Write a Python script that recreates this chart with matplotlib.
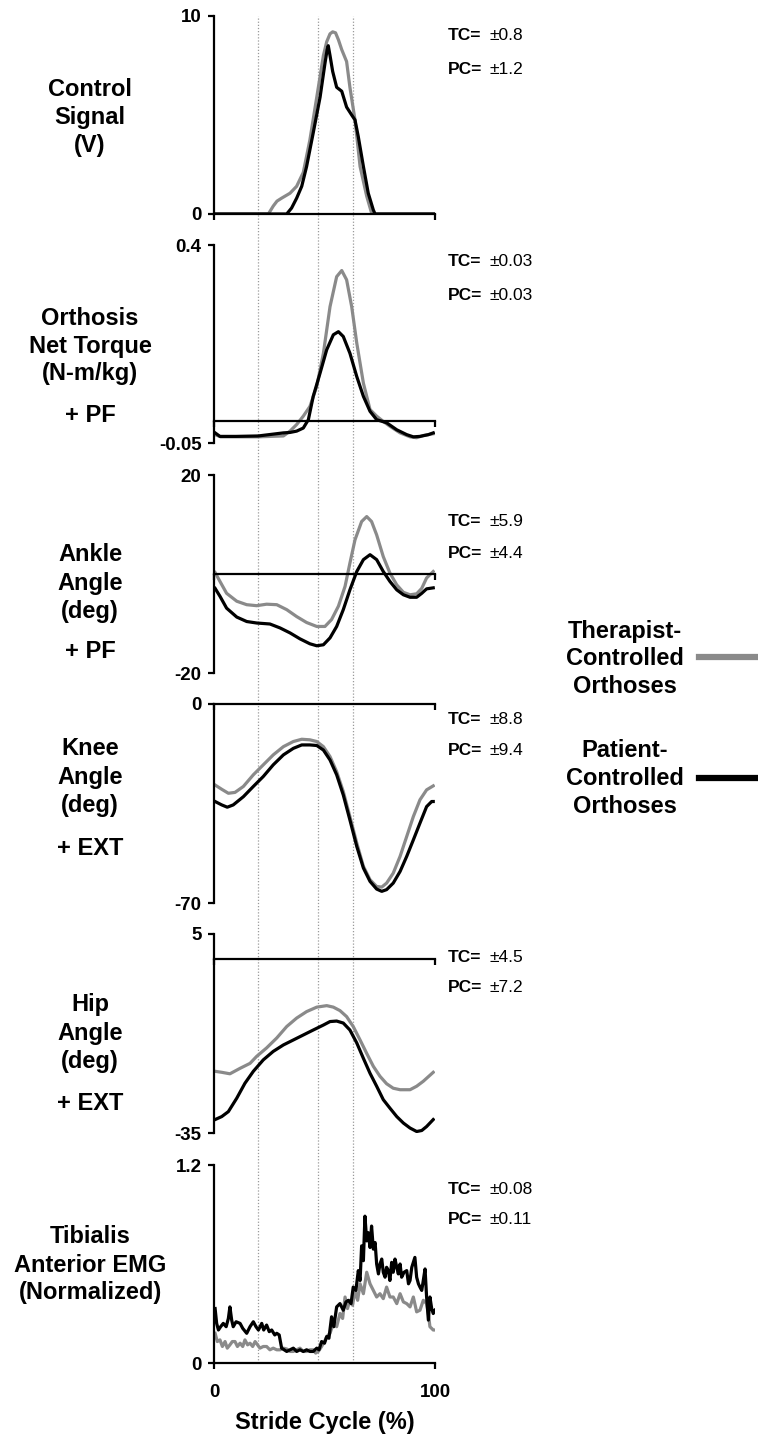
import matplotlib
matplotlib.use("Agg")
import matplotlib.pyplot as plt
from matplotlib.lines import Line2D

plt.rcParams['font.family'] = ['Liberation Sans', 'DejaVu Sans']
plt.rcParams['font.weight'] = 'bold'

GRAY = '#8a8a8a'
BLACK = '#000000'

# ---------------- data (stride cycle %, value) ----------------
# Panel 1: Control signal (V)
ctrl_tc_x = [0, 24.6, 26.8, 28.5, 30.6, 34.4, 37.4, 40.4, 43.4, 46.5, 49.5, 51.0, 52.5, 53.7, 55.0, 56.3, 57.8, 60.0, 61.5, 63.8, 66.1, 69.1, 71.3, 73, 100]
ctrl_tc_y = [0, 0, 0.4, 0.65, 0.8, 1.05, 1.4, 2.1, 3.75, 5.9, 8.0, 8.7, 9.1, 9.2, 9.15, 8.8, 8.3, 7.7, 6.4, 4.75, 2.4, 0.9, 0.05, 0, 0]
ctrl_pc_x = [0, 32.9, 35.1, 37.4, 39.7, 41.9, 44.9, 48.0, 50.2, 51.2, 51.7, 52.5, 53.7, 55.5, 57.8, 60.0, 62.3, 63.8, 65.3, 67.6, 69.8, 72.1, 72.9, 100]
ctrl_pc_y = [0, 0, 0.3, 0.8, 1.4, 2.4, 4.1, 5.9, 7.6, 8.3, 8.5, 8.0, 7.2, 6.4, 6.2, 5.4, 5.0, 4.75, 3.9, 2.4, 1.05, 0.2, 0, 0]

# Panel 2: Orthosis net torque (N-m/kg)
torq_tc_x = [0.5, 3, 10, 20, 31.4, 34.4, 37.4, 40.4, 43.4, 46.5, 49.5, 52.5, 55.5, 57.8, 60.0, 62.3, 64.6, 67.6, 70.6, 73.6, 76.6, 79.6, 84.2, 88.7, 91.7, 94.7, 99.2]
torq_tc_y = [-0.031, -0.036, -0.036, -0.036, -0.034, -0.023, -0.008, 0.011, 0.033, 0.079, 0.154, 0.260, 0.328, 0.342, 0.321, 0.260, 0.177, 0.086, 0.026, 0.011, -0.001, -0.012, -0.027, -0.036, -0.038, -0.033, -0.029]
torq_pc_x = [0.5, 2.7, 10, 20, 31.4, 34.4, 37.4, 40.4, 42.7, 44.9, 48.0, 51.0, 54.0, 56.3, 58.5, 61.5, 64.6, 67.6, 70.6, 73.6, 78.1, 82.7, 87.2, 90.2, 93.2, 97.0, 99.2]
torq_pc_y = [-0.027, -0.035, -0.035, -0.034, -0.027, -0.026, -0.023, -0.016, 0.003, 0.056, 0.109, 0.162, 0.196, 0.203, 0.192, 0.154, 0.101, 0.056, 0.022, 0.003, -0.004, -0.020, -0.031, -0.036, -0.035, -0.031, -0.027]

# Panel 3: Ankle angle (deg)
ank_tc_x = [0.5, 2.7, 5.7, 10.3, 14.8, 19.3, 23.8, 28.4, 32.9, 37.4, 41.9, 46.5, 50.2, 53.2, 56.3, 59.3, 61.5, 63.8, 66.8, 69.1, 71.3, 73.6, 76.6, 79.6, 82.7, 85.7, 88.7, 91.7, 94.0, 96.2, 99.2]
ank_tc_y = [0.3, -1.5, -3.9, -5.5, -6.2, -6.4, -6.1, -6.2, -7.2, -8.6, -9.8, -10.6, -10.6, -9.2, -6.5, -2.5, 2.2, 6.9, 10.6, 11.6, 10.6, 7.9, 3.5, 0.2, -2.2, -3.7, -4.2, -4.0, -2.9, -0.8, 0.5]
ank_pc_x = [0.5, 2.7, 5.7, 10.3, 14.8, 19.3, 25.3, 29.9, 34.4, 38.9, 43.4, 46.5, 49.5, 52.5, 55.5, 58.5, 61.5, 64.6, 67.6, 70.6, 73.6, 76.6, 79.6, 82.7, 85.7, 88.7, 91.7, 94.0, 96.2, 99.2]
ank_pc_y = [-2.9, -4.5, -6.9, -8.7, -9.6, -9.9, -10.1, -10.9, -11.9, -13.1, -14.1, -14.5, -14.3, -12.9, -10.6, -7.2, -3.2, 0.5, 2.9, 3.9, 2.9, 0.5, -1.5, -3.2, -4.2, -4.7, -4.7, -3.9, -3.0, -2.8]

# Panel 4: Knee angle (deg)
knee_tc_x = [0.5, 3.5, 6.5, 9.5, 13.3, 17.8, 22.3, 26.8, 31.4, 35.9, 39.7, 43.4, 46.5, 49.5, 52.5, 55.5, 58.5, 61.5, 64.6, 67.6, 70.6, 73.6, 75.9, 78.1, 81.1, 84.2, 87.2, 90.2, 93.2, 96.2, 99.2]
knee_tc_y = [-28.5, -30.0, -31.4, -31.1, -29.0, -24.9, -21.4, -17.9, -15.0, -13.2, -12.4, -12.6, -13.2, -15.0, -18.5, -23.8, -30.8, -39.6, -48.9, -57.1, -61.8, -64.2, -64.4, -63.0, -59.5, -53.6, -46.6, -39.6, -33.7, -30.2, -28.8]
knee_pc_x = [0.5, 3.5, 6.0, 8.7, 13.3, 17.8, 22.3, 26.8, 31.4, 35.9, 39.7, 43.4, 46.5, 49.5, 52.5, 55.5, 58.5, 61.5, 64.6, 67.6, 70.6, 73.6, 75.9, 78.1, 81.1, 84.2, 87.2, 90.2, 93.2, 96.2, 98.5, 99.2]
knee_pc_y = [-34.3, -35.5, -36.3, -35.5, -32.6, -29.0, -25.5, -21.4, -17.9, -15.6, -14.4, -14.4, -14.6, -16.2, -19.7, -24.9, -32.0, -40.8, -50.1, -57.7, -62.4, -65.1, -65.9, -65.3, -63.0, -58.9, -53.6, -47.8, -41.9, -36.1, -34.3, -34.3]

# Panel 5: Hip angle (deg)
hip_tc_x = [0.5, 3.5, 7.2, 11.8, 16.3, 19.3, 23.8, 28.4, 32.9, 37.4, 41.9, 46.5, 51.0, 54.0, 57.0, 60.0, 63.0, 66.1, 69.1, 72.1, 75.1, 78.1, 81.1, 84.2, 88.7, 91.7, 94.7, 99.2]
hip_tc_y = [-22.6, -22.8, -23.1, -22.0, -21.0, -19.6, -17.9, -15.9, -13.6, -11.9, -10.6, -9.7, -9.4, -9.7, -10.4, -11.6, -13.6, -16.3, -19.0, -21.6, -23.6, -25.1, -26.0, -26.3, -26.3, -25.6, -24.6, -22.8]
hip_pc_x = [0.5, 3.5, 6.5, 10.3, 14.0, 17.8, 22.3, 26.8, 31.4, 35.9, 40.4, 44.9, 49.5, 52.5, 55.5, 58.5, 61.5, 64.6, 67.6, 70.6, 73.6, 76.6, 79.6, 82.7, 85.7, 88.7, 91.7, 94.0, 96.2, 99.2]
hip_pc_y = [-32.3, -31.7, -30.7, -28.0, -25.0, -22.6, -20.3, -18.6, -17.3, -16.3, -15.3, -14.3, -13.3, -12.6, -12.5, -12.9, -14.3, -16.9, -20.0, -23.0, -25.6, -28.3, -30.0, -31.7, -33.0, -34.0, -34.7, -34.5, -33.7, -32.3]

# Panel 6: Tibialis anterior EMG (normalized)
emg_tc_x = [0.5, 1.5, 2.7, 3.8, 5.0, 6.0, 7.2, 8.3, 9.5, 10.6, 11.8, 13.0, 14.0, 15.2, 16.3, 17.5, 18.6, 19.7, 20.8, 22.3, 23.8, 25.3, 26.8, 28.4, 29.9, 31.4, 32.9, 34.4, 35.9, 37.4, 38.9, 40.4, 41.9, 43.4, 44.9, 46.0, 47.2, 48.7, 50.0, 51.0, 52.5, 54.0, 55.5, 57.0, 58.2, 59.3, 60.4, 61.5, 62.7, 63.8, 65.0, 66.1, 67.6, 69.1, 70.6, 72.1, 73.6, 75.1, 76.6, 78.1, 79.6, 81.1, 82.7, 84.2, 85.7, 87.2, 88.7, 90.2, 91.7, 93.2, 94.7, 96.2, 97.0, 97.7, 99.2, 100]
emg_tc_y = [0.18, 0.13, 0.14, 0.10, 0.13, 0.09, 0.11, 0.13, 0.13, 0.10, 0.12, 0.10, 0.14, 0.11, 0.12, 0.10, 0.13, 0.11, 0.09, 0.10, 0.10, 0.08, 0.09, 0.08, 0.08, 0.09, 0.085, 0.07, 0.07, 0.08, 0.09, 0.07, 0.07, 0.08, 0.08, 0.06, 0.07, 0.10, 0.13, 0.16, 0.18, 0.24, 0.22, 0.30, 0.27, 0.40, 0.33, 0.38, 0.35, 0.44, 0.38, 0.48, 0.42, 0.55, 0.48, 0.44, 0.40, 0.42, 0.39, 0.46, 0.40, 0.40, 0.36, 0.42, 0.37, 0.36, 0.34, 0.40, 0.31, 0.32, 0.38, 0.36, 0.30, 0.22, 0.20, 0.20]
emg_pc_x = [0.5, 1.2, 2.0, 3.0, 4.2, 5.5, 6.5, 7.2, 8.0, 8.7, 10.0, 11.8, 13.0, 14.8, 16.3, 17.8, 19.0, 20.1, 21.6, 22.5, 23.8, 25.0, 26.1, 27.5, 28.4, 29.5, 30.6, 32.9, 34.4, 35.9, 37.4, 38.9, 40.4, 41.9, 43.4, 44.9, 46.5, 47.5, 48.7, 50.0, 51.0, 52.0, 53.2, 54.2, 55.5, 57.0, 58.5, 59.7, 60.8, 62.0, 63.0, 64.2, 65.3, 66.1, 66.8, 67.6, 68.3, 69.1, 69.8, 70.6, 71.3, 72.1, 72.9, 73.6, 74.4, 75.1, 75.9, 76.6, 77.4, 78.1, 78.9, 79.6, 80.4, 81.1, 81.9, 82.7, 83.4, 84.2, 84.9, 86.0, 87.2, 88.0, 88.7, 89.5, 90.9, 91.7, 92.5, 93.2, 94.0, 94.7, 95.5, 96.2, 97.0, 97.7, 98.5, 99.2, 100]
emg_pc_y = [0.33, 0.24, 0.20, 0.22, 0.24, 0.22, 0.27, 0.34, 0.26, 0.22, 0.25, 0.24, 0.21, 0.18, 0.22, 0.25, 0.22, 0.20, 0.24, 0.20, 0.23, 0.19, 0.20, 0.17, 0.18, 0.17, 0.09, 0.07, 0.08, 0.09, 0.07, 0.08, 0.07, 0.08, 0.07, 0.07, 0.09, 0.08, 0.13, 0.12, 0.16, 0.15, 0.28, 0.22, 0.34, 0.36, 0.32, 0.37, 0.38, 0.36, 0.46, 0.44, 0.56, 0.50, 0.71, 0.62, 0.89, 0.74, 0.79, 0.70, 0.83, 0.69, 0.73, 0.60, 0.54, 0.60, 0.63, 0.55, 0.52, 0.58, 0.56, 0.50, 0.61, 0.55, 0.63, 0.58, 0.54, 0.60, 0.52, 0.55, 0.56, 0.48, 0.50, 0.58, 0.64, 0.52, 0.48, 0.46, 0.44, 0.50, 0.57, 0.40, 0.26, 0.40, 0.33, 0.30, 0.32]

panel_series = [
    (ctrl_tc_x, ctrl_tc_y, ctrl_pc_x, ctrl_pc_y),
    (torq_tc_x, torq_tc_y, torq_pc_x, torq_pc_y),
    (ank_tc_x, ank_tc_y, ank_pc_x, ank_pc_y),
    (knee_tc_x, knee_tc_y, knee_pc_x, knee_pc_y),
    (hip_tc_x, hip_tc_y, hip_pc_x, hip_pc_y),
    (emg_tc_x, emg_tc_y, emg_pc_x, emg_pc_y),
]
y_limits = [(0, 10), (-0.05, 0.4), (-20, 20), (-70, 0), (-35, 5), (0, 1.2)]
y_ticklabels = [("0", "10"), ("-0.05", "0.4"), ("-20", "20"), ("-70", "0"), ("-35", "5"), ("0", "1.2")]
panel_labels = [
    ["Control", "Signal", "(V)"],
    ["Orthosis", "Net Torque", "(N-m/kg)"],
    ["Ankle", "Angle", "(deg)"],
    ["Knee", "Angle", "(deg)"],
    ["Hip", "Angle", "(deg)"],
    ["Tibialis", "Anterior EMG", "(Normalized)"],
]
direction_labels = [None, "+ PF", "+ PF", "+ EXT", "+ EXT", None]
tc_values = ["±0.8", "±0.03", "±5.9", "±8.8", "±4.5", "±0.08"]
pc_values = ["±1.2", "±0.03", "±4.4", "±9.4", "±7.2", "±0.11"]
event_lines = [20, 47, 63]
x_ticklabels = ["0", "100"]
xlabel = "Stride Cycle (%)"
legend_labels = [["Therapist-", "Controlled", "Orthoses"], ["Patient-", "Controlled", "Orthoses"]]

# ---------------- layout (pixels) ----------------
W, H = 758, 1437
fig = plt.figure(figsize=(W / 100, H / 100), dpi=100)

def fx(px):
    return px / W

def fy(py):
    return 1 - py / H

AX_L, AX_R = 214, 435
panel_tops = [16, 245, 475, 704, 934, 1165]
panel_bots = [214, 443, 673, 903, 1133, 1363]
label_baselines = [[96, 124, 152], [325, 353, 380], [561, 590, 618],
                   [755, 784, 812], [1011, 1040, 1068], [1243, 1272, 1299]]
dir_baselines = [None, 422, 658, 855, 1110, None]
tc_centers = [36, 262, 521, 719, 957, 1189]
pc_centers = [69, 296, 553, 750, 988, 1220]

# dotted event lines spanning the whole column
ov = fig.add_axes([fx(AX_L), fy(1363), fx(AX_R) - fx(AX_L), fy(16) - fy(1363)], zorder=0)
ov.set_xlim(0, 100)
ov.set_ylim(0, 1)
ov.axis('off')
for ev in event_lines:
    ov.axvline(ev, color='#9a9a9a', lw=0.9, ls=(0, (1, 1.5)))

LW = 2.3
for i in range(6):
    top, bot = panel_tops[i], panel_bots[i]
    ax = fig.add_axes([fx(AX_L), fy(bot), fx(AX_R) - fx(AX_L), fy(top) - fy(bot)], zorder=1)
    ax.set_facecolor('none')
    tx, ty, px_, py_ = panel_series[i]
    ax.plot(tx, ty, color=GRAY, lw=LW, solid_joinstyle='round', zorder=3)
    ax.plot(px_, py_, color=BLACK, lw=LW, solid_joinstyle='round', zorder=4)
    ymin, ymax = y_limits[i]
    ax.set_xlim(0, 100)
    ax.set_ylim(ymin, ymax)
    ax.spines['top'].set_visible(False)
    ax.spines['right'].set_visible(False)
    ax.spines['left'].set_linewidth(1.6)
    ax.spines['bottom'].set_linewidth(1.6)
    ax.spines['bottom'].set_position(('data', 0))
    ax.spines['left'].set_zorder(5)
    ax.spines['bottom'].set_zorder(5)
    ax.set_yticks([ymin, ymax])
    ax.set_yticklabels(list(y_ticklabels[i]))
    ax.tick_params(axis='y', direction='out', length=4, width=1.6, pad=5,
                   labelsize=13.5)
    ax.set_xticks([0, 100])
    if i == 5:
        ax.set_xticklabels(x_ticklabels)
        ax.tick_params(axis='x', direction='out', length=4, width=1.6, pad=11,
                       labelsize=13.5)
    else:
        ax.set_xticklabels(["", ""])
        ax.tick_params(axis='x', direction='out', length=4, width=1.6)
    for lab in ax.get_yticklabels() + ax.get_xticklabels():
        lab.set_fontweight('bold')

    # left-side labels
    for line, b in zip(panel_labels[i], label_baselines[i]):
        fig.text(fx(90), fy(b), line, ha='center', va='baseline',
                 fontsize=17, fontweight='bold')
    if direction_labels[i]:
        fig.text(fx(90), fy(dir_baselines[i]), direction_labels[i], ha='center',
                 va='baseline', fontsize=17, fontweight='bold')

    # right-side variability annotations
    fig.text(fx(448), fy(tc_centers[i]), "TC=", ha='left', va='center',
             fontsize=12.5, fontweight='bold')
    fig.text(fx(489), fy(tc_centers[i]), tc_values[i], ha='left', va='center',
             fontsize=12.5, fontweight='normal')
    fig.text(fx(448), fy(pc_centers[i]), "PC=", ha='left', va='center',
             fontsize=12.5, fontweight='bold')
    fig.text(fx(489), fy(pc_centers[i]), pc_values[i], ha='left', va='center',
             fontsize=12.5, fontweight='normal')

# x axis label
fig.text(fx((AX_L + AX_R) / 2), fy(1423), xlabel, ha='center', va='center',
         fontsize=17, fontweight='bold')

# legend
leg_baselines = [[638, 665, 693], [757, 785, 813]]
leg_line_y = [657, 778]
leg_colors = [GRAY, BLACK]
for lines, bls, ly, col in zip(legend_labels, leg_baselines, leg_line_y, leg_colors):
    for line, b in zip(lines, bls):
        fig.text(fx(625), fy(b), line, ha='center', va='baseline', fontsize=17,
                 fontweight='bold')
    fig.add_artist(Line2D([fx(699), fx(758)], [fy(ly), fy(ly)], color=col,
                          lw=4.5, transform=fig.transFigure))

fig.savefig("out.png", dpi=100)
